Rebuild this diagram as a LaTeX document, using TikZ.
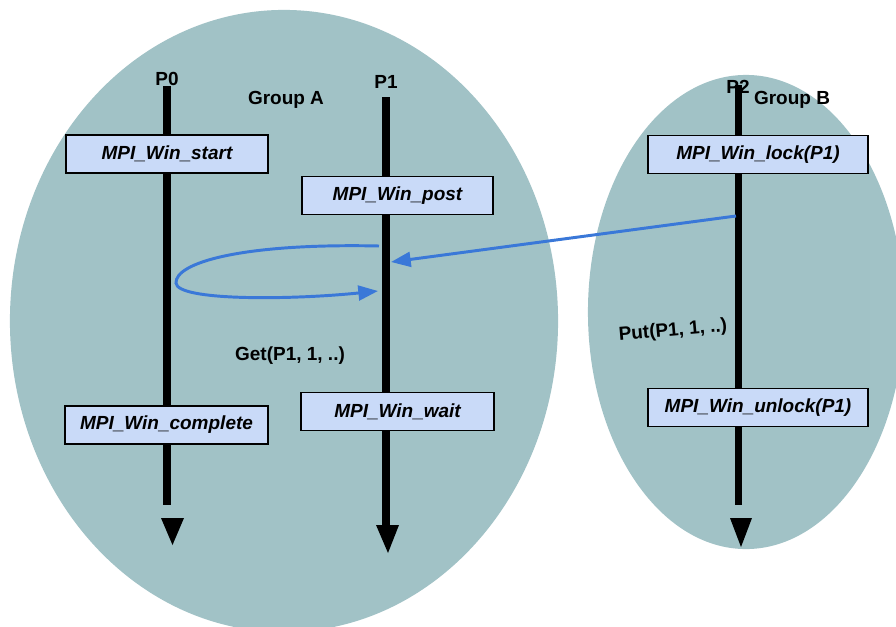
\documentclass[tikz,border=0pt]{standalone}
\usepackage{fontspec}
\setmainfont{Liberation Sans}
\usetikzlibrary{shapes,arrows.meta,positioning}
\definecolor{grpteal}{RGB}{161,194,198}
\definecolor{callblue}{RGB}{201,218,248}
\definecolor{msgblue}{RGB}{58,120,216}

\begin{document}
\begin{tikzpicture}[x=0.025cm, y=-0.025cm, every node/.style={font=\fontsize{13.5}{16}\selectfont\bfseries}]
    \tikzset{
        group/.style={ellipse, fill=grpteal, inner sep=0pt},
        timeline/.style={line width=5.4pt},
        callbox/.style={rectangle, draw, line width=1.4pt, fill=callblue, minimum height=0.95cm, inner sep=2pt, font=\fontsize{13.5}{16}\selectfont\bfseries\itshape},
        msg/.style={draw=msgblue, line width=2.1pt, -{Triangle[length=14pt, width=10.5pt]}}
    }
    \clip (0,0) rectangle (896,626);

    \node[group, minimum width=13.7cm, minimum height=15.55cm] (grpA) at (284,321) {};
    \node[group, minimum width=7.9cm, minimum height=11.85cm] (grpB) at (746,312) {};

    \coordinate (p0top) at (167,86);
    \coordinate (p0end) at (167,505);
    \coordinate (p1top) at (386,97);
    \coordinate (p1end) at (386,527);
    \coordinate (p2top) at (738.5,85);
    \coordinate (p2end) at (738.5,505);

    \draw[timeline] (p0top) -- (p0end);
    \draw[timeline] (p1top) -- (p1end);
    \draw[timeline] (p2top) -- (p2end);
    \fill (161,518) -- (184,518) -- (172.5,545) -- cycle;
    \fill (376,525) -- (399,525) -- (388,553) -- cycle;
    \fill (730,518) -- (752,518) -- (741,547) -- cycle;

    \node (p0) at (167,79) {P0};
    \node (p1) at (386,82) {P1};
    \node (p2) at (738,87) {P2};
    \node (grpAlabel) at (286,100) {Group A};
    \node (grpBlabel) at (792,100) {Group B};

    \node[callbox, minimum width=5.05cm] (start) at (167,154) {MPI\_Win\_start};
    \node[callbox, minimum width=4.78cm] (post) at (397.5,195.5) {MPI\_Win\_post};
    \node[callbox, minimum width=5.5cm] (lock) at (758,154.5) {MPI\_Win\_lock(P1)};
    \node[callbox, minimum width=5.08cm] (complete) at (166.5,425) {MPI\_Win\_complete};
    \node[callbox, minimum width=4.83cm] (wait) at (397.5,411.5) {MPI\_Win\_wait};
    \node[callbox, minimum width=5.5cm] (unlock) at (758,407.5) {MPI\_Win\_unlock(P1)};

    \node (get) at (290,356) {Get(P1, 1, ..)};
    \node[rotate=5] (put) at (673,331) {Put(P1, 1, ..)};

    \coordinate (p2tap) at (736,216);
    \coordinate (p1hit) at (391,262);
    \coordinate (p1out) at (379,246);
    \coordinate (loopleft) at (176,283);
    \coordinate (p1in) at (378,291);

    \draw[msg] (p2tap) -- (p1hit);
    \draw[msg] (p1out) .. controls (240,243) and (175,263) .. (loopleft) .. controls (177,301) and (290,300) .. (p1in);
\end{tikzpicture}
\end{document}
